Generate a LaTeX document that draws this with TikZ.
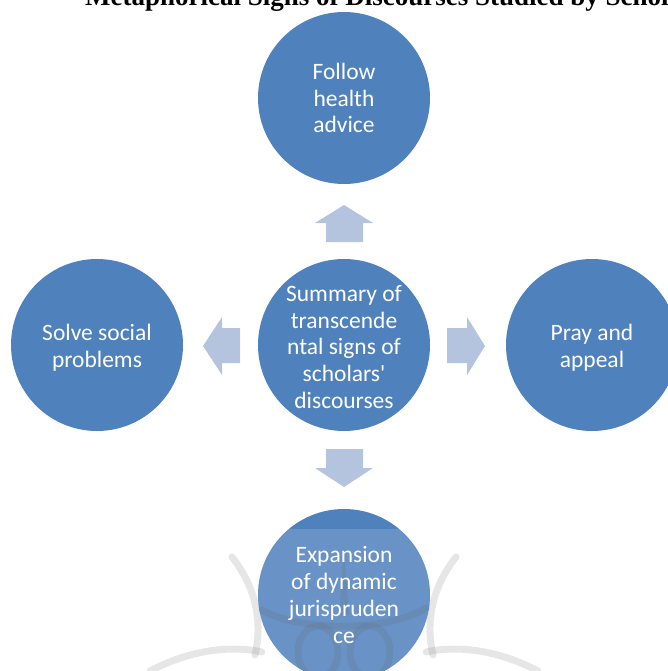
\documentclass[tikz,border=0pt]{standalone}
\usepackage{fontspec}
\setmainfont{Liberation Serif}
\newfontfamily\calibrifont{Carlito}
\definecolor{bubbleblue}{RGB}{79,129,189}
\definecolor{arrowblue}{RGB}{180,196,222}
\tikzset{
  bubble/.style={circle, fill=bubbleblue, minimum size=172pt, inner sep=0pt},
  bubbletext/.style={align=center, text=white, inner sep=0pt, font=\calibrifont\fontsize{23.5}{26.7}\selectfont},
  blockarrow/.style={fill=arrowblue},
  watermark/.style={draw=black!60, opacity=0.16, line width=7pt, line cap=round},
}
\begin{document}
\begin{tikzpicture}[x=1pt,y=-1pt]
\useasboundingbox (0,0) rectangle (668,671);
\clip (0,0) rectangle (668,671);
\node[font=\bfseries\fontsize{27}{30}\selectfont, anchor=base west, inner sep=0pt] (title) at (85,6) {Metaphorical Signs of Discourses Studied by Scholars};
% circles
\node[bubble] (hub) at (344,345) {};
\node[bubbletext] at ([yshift=-2]hub.center) {Summary of\\transcende\\ntal signs of\\scholars'\\discourses};
\node[bubble] (health) at (344,98) {};
\node[bubbletext] at (health) {Follow\\health\\advice};
\node[bubble] (social) at (97,345) {};
\node[bubbletext] at ([yshift=-3]social.center) {Solve social\\problems};
\node[bubble] (pray) at (592,345) {};
\node[bubbletext] at ([yshift=-3]pray.center) {Pray and\\appeal};
\node[bubble] (fiqh) at (344,595) {};
% faint watermark over the lower part
\begin{scope}
\clip (fiqh) circle (86);
\fill[white, opacity=0.15] (0,529) rectangle (668,671);
\end{scope}
\draw[watermark] (232,557) .. controls (258,590) and (262,625) .. (255,655);
\draw[watermark] (150,671) .. controls (190,650) and (230,645) .. (262,652);
\draw[watermark] (456,557) .. controls (430,590) and (426,625) .. (433,655);
\draw[watermark] (538,671) .. controls (498,650) and (458,645) .. (426,652);
\draw[watermark] (262,610) .. controls (300,632) and (388,632) .. (426,608);
\draw[watermark] (318,652) ellipse (20 and 26);
\draw[watermark] (370,652) ellipse (20 and 26);
\fill[black!60, opacity=0.16] (339,615) -- (344,545) -- (349,615) -- cycle;
\node[bubbletext] at (fiqh) {Expansion\\of dynamic\\jurispruden\\ce};
% block arrows
\fill[blockarrow] (326,242) -- (326,223) -- (315,223) -- (344,205) -- (373,223) -- (363,223) -- (363,242) -- cycle;
\fill[blockarrow] (326,449) -- (363,449) -- (363,468) -- (373,468) -- (344,487) -- (315,468) -- (326,468) -- cycle;
\fill[blockarrow] (240,328) -- (222,328) -- (222,317) -- (203,346) -- (222,375) -- (222,363) -- (240,363) -- cycle;
\fill[blockarrow] (447,328) -- (467,328) -- (467,317) -- (485,346) -- (467,375) -- (467,363) -- (447,363) -- cycle;
\end{tikzpicture}
\end{document}
